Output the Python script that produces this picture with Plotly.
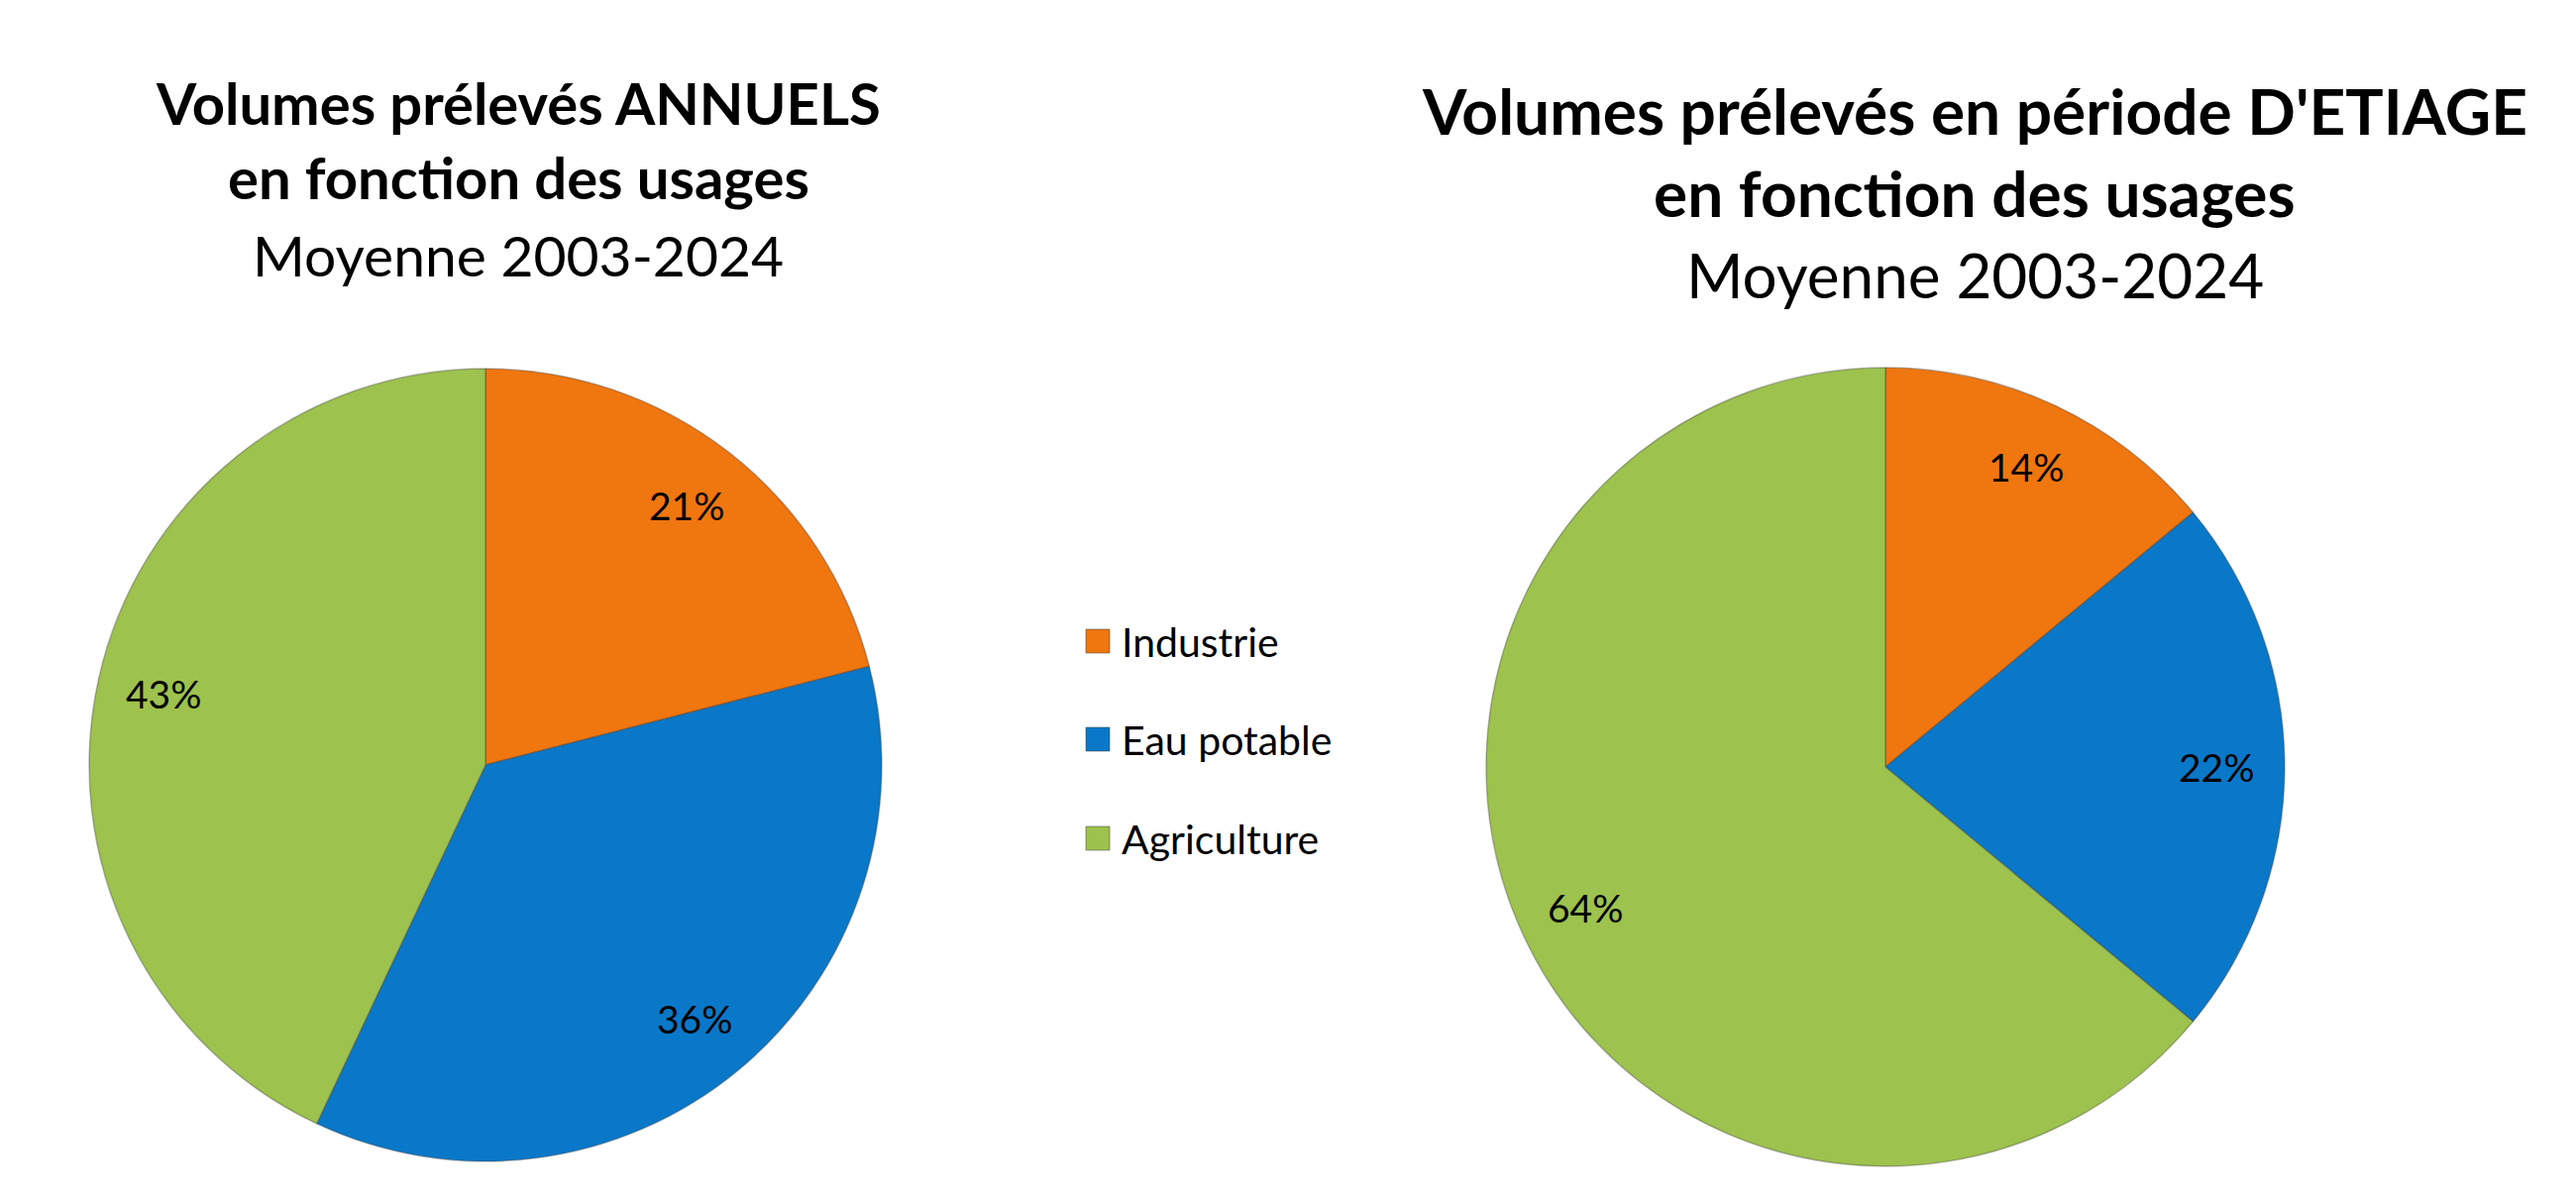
import math
import plotly.graph_objects as go

W, H = 2600, 1213

categories = ["Industrie", "Eau potable", "Agriculture"]
annual_pct = [21, 36, 43]
etiage_pct = [14, 22, 64]
colors = ["#F0760F", "#0A78C8", "#9DC24D"]

title_left = ["<b>Volumes prélevés ANNUELS</b>", "<b>en fonction des usages</b>", "Moyenne 2003-2024"]
title_right = ["<b>Volumes prélevés en période D'ETIAGE</b>", "<b>en fonction des usages</b>", "Moyenne 2003-2024"]

FONT = "Lato, 'Open Sans', sans-serif"

# pie geometry in pixels (center x, center y, radius)
pies = [
    dict(vals=annual_pct, cx=490, cy=772, r=400),
    dict(vals=etiage_pct, cx=1903, cy=774, r=403),
]

fig = go.Figure()
annotations = []
for p in pies:
    cx, cy, r = p["cx"], p["cy"], p["r"]
    fig.add_trace(go.Pie(
        labels=categories, values=p["vals"], sort=False, direction="clockwise", rotation=0,
        marker=dict(colors=colors, line=dict(color="rgba(60,60,60,0.35)", width=1.5)),
        textinfo="none", hoverinfo="label+percent", showlegend=False,
        domain=dict(x=[(cx - r) / W, (cx + r) / W], y=[1 - (cy + r) / H, 1 - (cy - r) / H]),
    ))
    total = sum(p["vals"])
    cum = 0
    for v in p["vals"]:
        mid = (cum + v / 2) / total * 2 * math.pi
        cum += v
        lx = cx + 0.83 * r * math.sin(mid)
        ly = cy - 0.83 * r * math.cos(mid)
        annotations.append(dict(
            x=lx / W, y=1 - ly / H, xref="paper", yref="paper",
            text=f"{round(v / total * 100)}%", showarrow=False,
            font=dict(family=FONT, size=39, color="black"), xanchor="center", yanchor="middle"))

# titles
for lines, cx, ys, sizes in [
    (title_left, 523, [103, 179, 257], [58, 58, 57]),
    (title_right, 1993, [111, 194, 277], [64, 64, 62]),
]:
    for t, y, s in zip(lines, ys, sizes):
        annotations.append(dict(
            x=cx / W, y=1 - y / H, xref="paper", yref="paper", text=t, showarrow=False,
            font=dict(family=FONT, size=s, color="black"), xanchor="center", yanchor="middle"))

# legend (drawn manually to match spacing)
shapes = []
leg_y = [647, 746, 846]
for cat, col, y in zip(categories, colors, leg_y):
    shapes.append(dict(type="rect", xref="paper", yref="paper",
                       x0=1096 / W, x1=1120 / W, y0=1 - (y + 12) / H, y1=1 - (y - 12) / H,
                       fillcolor=col, line=dict(color="rgba(60,60,60,0.5)", width=1)))
    annotations.append(dict(
        x=1130 / W, y=1 - y / H, xref="paper", yref="paper", text=cat, showarrow=False,
        font=dict(family=FONT, size=41, color="black"), xanchor="left", yanchor="middle"))

fig.update_layout(
    width=W, height=H, margin=dict(l=0, r=0, t=0, b=0),
    paper_bgcolor="white", plot_bgcolor="white",
    annotations=annotations, shapes=shapes, showlegend=False,
)
fig.write_html("out.html")
